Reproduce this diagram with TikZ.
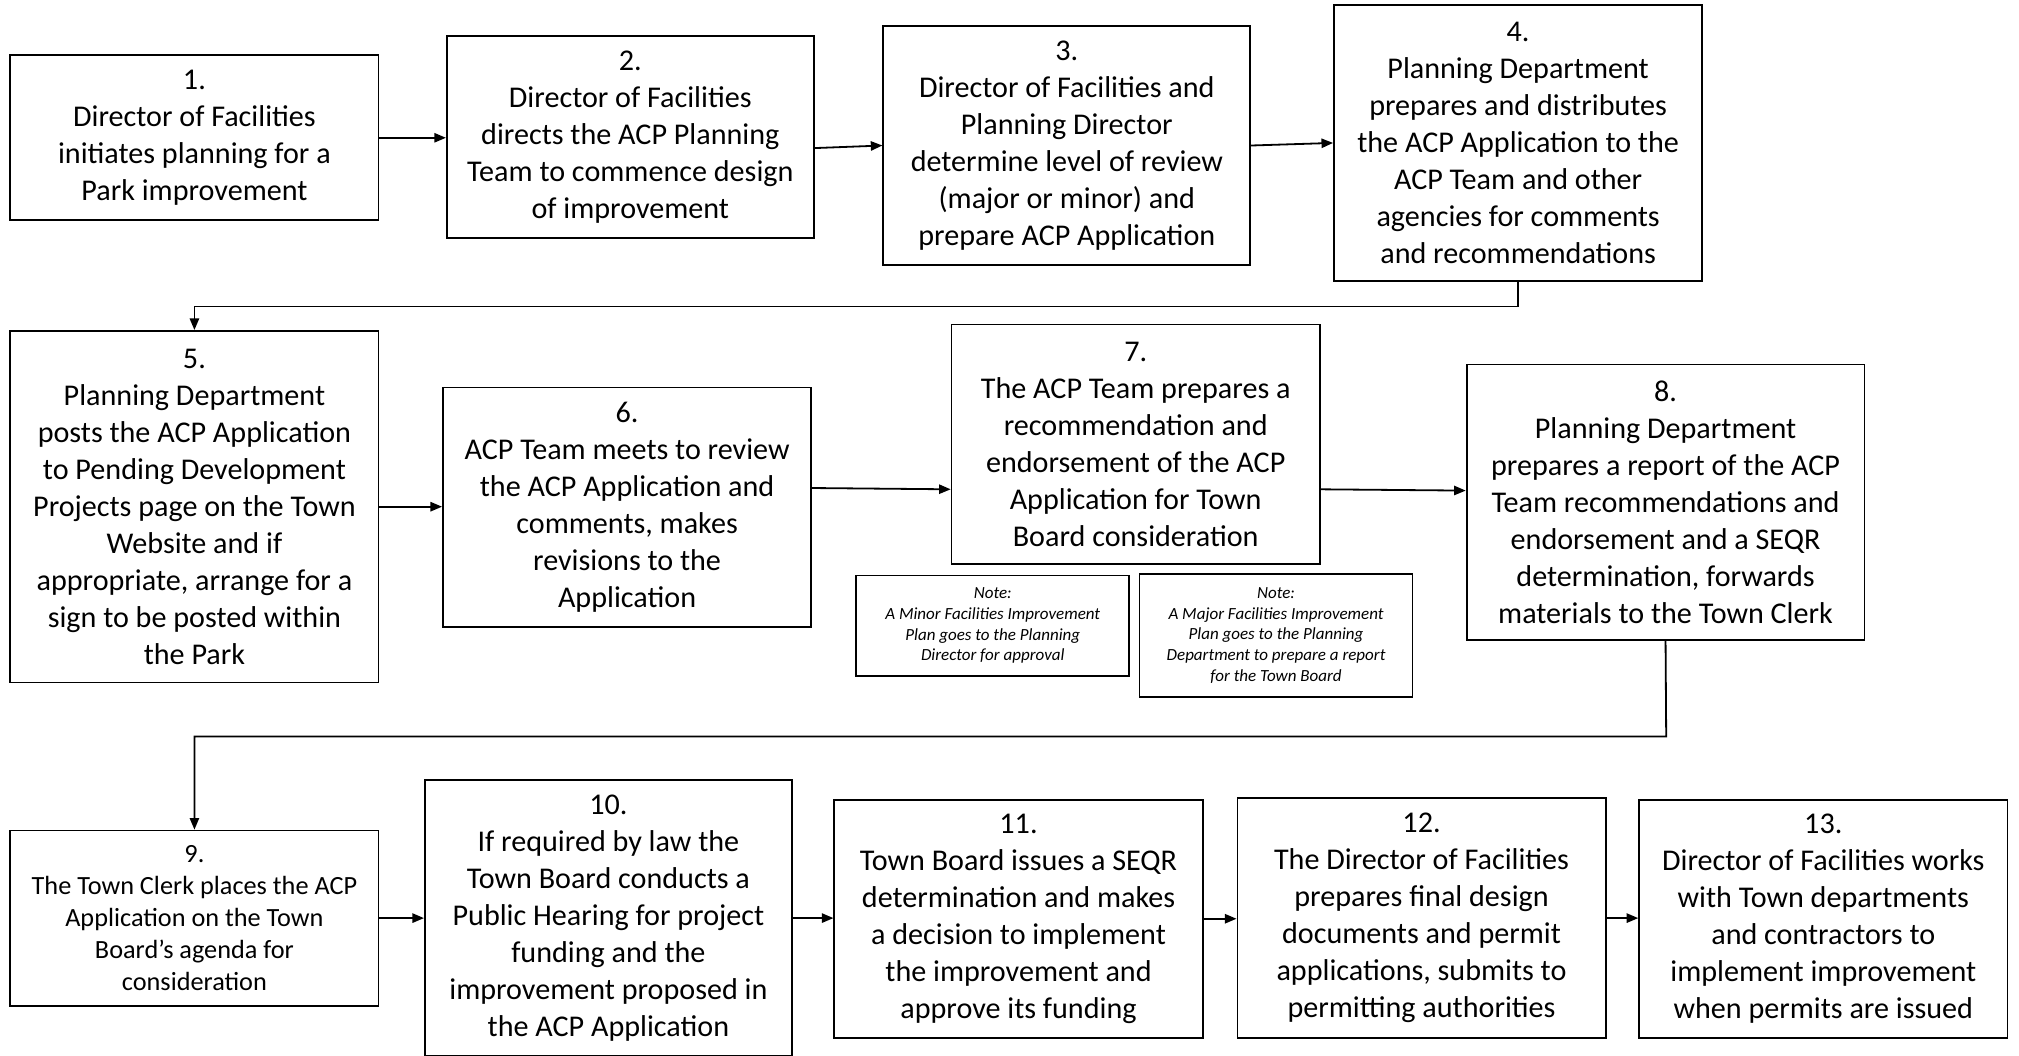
\documentclass[tikz,border=0pt]{standalone}
\usepackage{fontspec}
\setmainfont{Carlito}
\usetikzlibrary{arrows.meta}

\begin{document}
\begin{tikzpicture}[x=0.5pt,y=-0.5pt,
  stepbox/.style={draw,line width=0.7pt,inner sep=0pt,align=center,
    font=\fontsize{11.7}{14.35}\selectfont},
  notebox/.style={draw,line width=0.7pt,inner sep=0pt,align=center,
    minimum width=106pt,font=\fontsize{6.6}{8}\selectfont\itshape},
  arr/.style={line width=0.7pt,-{Triangle[length=4.5pt,width=3.6pt]}}]

\useasboundingbox (0,0) rectangle (1568,820);

\node[stepbox,minimum width=143pt,minimum height=64pt] (b1) at (151,107) {1.\\Director of Facilities\\initiates planning for a\\Park improvement};
\node[stepbox,minimum width=142.5pt,minimum height=78.5pt] (b2) at (489.5,106.5) {2.\\Director of Facilities\\directs the ACP Planning\\Team to commence design\\of improvement};
\node[stepbox,minimum width=142.5pt,minimum height=93pt] (b3) at (828.5,113) {3.\\Director of Facilities and\\Planning Director\\determine level of review\\(major or minor) and\\prepare ACP Application};
\node[stepbox,minimum width=143pt,minimum height=107pt] (b4) at (1179,111) {4.\\Planning Department\\prepares and distributes\\the ACP Application to the\\ACP Team and other\\agencies for comments\\and recommendations};

\node[stepbox,minimum width=143pt,minimum height=136.5pt] (b5) at (151,393.5) {5.\\Planning Department\\posts the ACP Application\\to Pending Development\\Projects page on the Town\\Website and if\\appropriate, arrange for a\\sign to be posted within\\the Park};
\node[stepbox,minimum width=143pt,minimum height=93pt] (b6) at (487,394) {6.\\ACP Team meets to review\\the ACP Application and\\comments, makes\\revisions to the\\Application};
\node[stepbox,minimum width=143pt,minimum height=93pt] (b7) at (882,345) {7.\\The ACP Team prepares a\\recommendation and\\endorsement of the ACP\\Application for Town\\Board consideration};
\node[stepbox,minimum width=154.5pt,minimum height=107pt] (b8) at (1293.5,390) {8.\\Planning Department\\prepares a report of the ACP\\Team recommendations and\\endorsement and a SEQR\\determination, forwards\\materials to the Town Clerk};

\node[notebox,minimum height=39pt] (n1) at (771,486) {Note:\\A Minor Facilities Improvement\\Plan goes to the Planning\\Director for approval};
\node[notebox,minimum height=47.5pt] (n2) at (991,493.5) {Note:\\A Major Facilities Improvement\\Plan goes to the Planning\\Department to prepare a report\\for the Town Board};

\node[stepbox,minimum width=143pt,minimum height=68pt,font=\fontsize{10.2}{12.5}\selectfont] (b9) at (151,713) {9.\\The Town Clerk places the ACP\\Application on the Town\\Board’s agenda for\\consideration};
\node[stepbox,minimum width=142.5pt,minimum height=107pt] (b10) at (472.5,713) {10.\\If required by law the\\Town Board conducts a\\Public Hearing for project\\funding and the\\improvement proposed in\\the ACP Application};
\node[stepbox,minimum width=143pt,minimum height=92.5pt] (b11) at (791,713.5) {11.\\Town Board issues a SEQR\\determination and makes\\a decision to implement\\the improvement and\\approve its funding};
\node[stepbox,minimum width=143pt,minimum height=93pt] (b12) at (1104,713) {12.\\The Director of Facilities\\prepares final design\\documents and permit\\applications, submits to\\permitting authorities};
\node[stepbox,minimum width=143pt,minimum height=92.5pt] (b13) at (1416,713.5) {13.\\Director of Facilities works\\with Town departments\\and contractors to\\implement improvement\\when permits are issued};

\coordinate (k4) at (1179,238);
\coordinate (k8) at (1294,572);

\draw[arr] (b1.east) -- (b1.east -| b2.west);
\draw[arr] ([yshift=-4.25pt]b2.east) -- (b3.west);
\draw[arr] (b3.east) -- (b4.west);
\draw[arr] (b4.south) -- (k4) -| (b5.north);
\draw[arr] (b5.east) -- (b5.east -| b6.west);
\draw[arr] ([yshift=7.5pt]b6.east) -- ([yshift=-17.5pt]b7.west);
\draw[arr] ([yshift=-17.5pt]b7.east) -- ([yshift=4.5pt]b8.west);
\draw[arr] (b8.south) -- (k8) -| (b9.north);
\draw[arr] (b9.east) -- (b9.east -| b10.west);
\draw[arr] (b10.east) -- (b10.east -| b11.west);
\draw[arr] (b11.east) -- (b11.east -| b12.west);
\draw[arr] (b12.east) -- (b12.east -| b13.west);

\end{tikzpicture}
\end{document}
